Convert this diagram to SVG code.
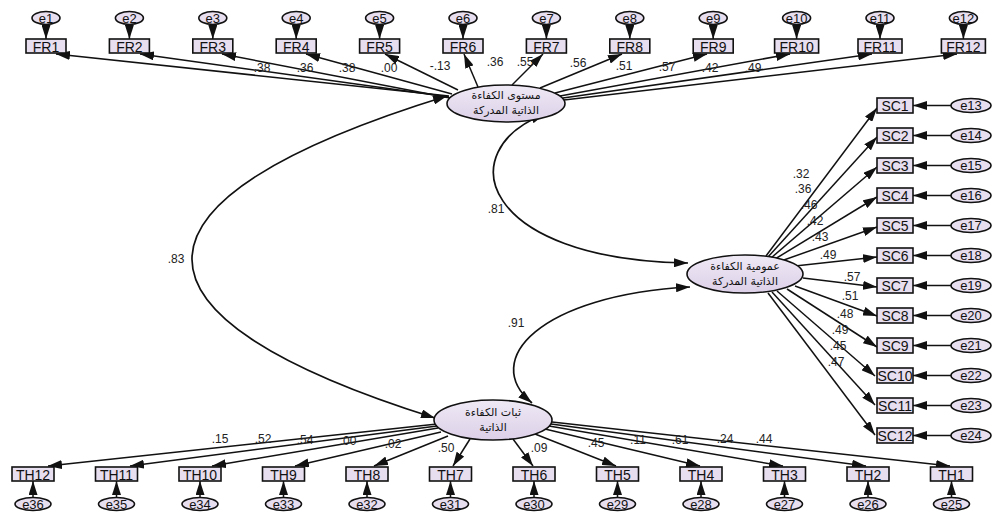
<svg xmlns="http://www.w3.org/2000/svg" width="993" height="512" viewBox="0 0 993 512">
<style>
.box{fill:#e7deef;stroke:#111;stroke-width:1.6}
.err{fill:#e7deef;stroke:#111;stroke-width:1.6}
.lat{fill:url(#lg);stroke:#111;stroke-width:1.6}
.t{font-family:"Liberation Sans",Arial,sans-serif;font-size:14px;fill:#111;text-anchor:middle}
.te{font-family:"Liberation Sans",Arial,sans-serif;font-size:13px;fill:#111;text-anchor:middle}
.ar{font-family:"DejaVu Sans","Noto Sans",sans-serif;font-size:11px;fill:#111;text-anchor:middle}
.lb{font-family:"Liberation Sans",Arial,sans-serif;font-size:12px;fill:#222;text-anchor:middle}
.c{stroke:#111;stroke-width:1.5;fill:none;marker-end:url(#ah)}
.cv{stroke:#111;stroke-width:1.7;fill:none;marker-end:url(#ah);marker-start:url(#ah)}
</style>
<defs>
<linearGradient id="lg" x1="0" y1="0" x2="0" y2="1">
<stop offset="0" stop-color="#efe9f5"/>
<stop offset="1" stop-color="#dcd0e8"/>
</linearGradient>
<marker id="ah" viewBox="0 0 14 9" refX="14" refY="4.5" markerWidth="14" markerHeight="9" orient="auto-start-reverse" markerUnits="userSpaceOnUse">
<path d="M0,0 L14,4.5 L0,9 z" fill="#111"/>
</marker>
</defs>

<g id="connectors">
<line class="c" x1="46" y1="24.5" x2="46" y2="39"/>
<line class="c" x1="129.4" y1="24.5" x2="129.4" y2="39"/>
<line class="c" x1="212.8" y1="24.5" x2="212.8" y2="39"/>
<line class="c" x1="296.2" y1="24.5" x2="296.2" y2="39"/>
<line class="c" x1="379.6" y1="24.5" x2="379.6" y2="39"/>
<line class="c" x1="463" y1="24.5" x2="463" y2="39"/>
<line class="c" x1="546.4" y1="24.5" x2="546.4" y2="39"/>
<line class="c" x1="629.8" y1="24.5" x2="629.8" y2="39"/>
<line class="c" x1="713.2" y1="24.5" x2="713.2" y2="39"/>
<line class="c" x1="796.6" y1="24.5" x2="796.6" y2="39"/>
<line class="c" x1="880" y1="24.5" x2="880" y2="39"/>
<line class="c" x1="963.4" y1="24.5" x2="963.4" y2="39"/>
<line class="c" x1="449" y1="96" x2="56" y2="54"/>
<line class="c" x1="449" y1="97" x2="140" y2="54"/>
<line class="c" x1="450" y1="98" x2="222" y2="54"/>
<line class="c" x1="452" y1="94" x2="306" y2="54"/>
<line class="c" x1="458" y1="90" x2="385" y2="54"/>
<line class="c" x1="478" y1="87" x2="464" y2="54"/>
<line class="c" x1="512" y1="85" x2="543" y2="54"/>
<line class="c" x1="540" y1="88" x2="622" y2="54"/>
<line class="c" x1="555" y1="93" x2="707" y2="54"/>
<line class="c" x1="560" y1="96" x2="790" y2="54"/>
<line class="c" x1="563" y1="98" x2="872" y2="54"/>
<line class="c" x1="564" y1="100" x2="957" y2="54"/>
<line class="c" x1="766" y1="256" x2="877" y2="108"/>
<line class="c" x1="768" y1="257" x2="877" y2="137"/>
<line class="c" x1="771" y1="258" x2="877" y2="167"/>
<line class="c" x1="775" y1="259" x2="877" y2="197"/>
<line class="c" x1="781" y1="261" x2="877" y2="227"/>
<line class="c" x1="795" y1="266" x2="877" y2="257"/>
<line class="c" x1="803" y1="278" x2="877" y2="287"/>
<line class="c" x1="795" y1="286" x2="877" y2="316"/>
<line class="c" x1="787" y1="289" x2="877" y2="347"/>
<line class="c" x1="777" y1="291" x2="875" y2="376"/>
<line class="c" x1="772" y1="292" x2="875" y2="405"/>
<line class="c" x1="768" y1="293" x2="875" y2="435"/>
<line class="c" x1="951" y1="105.5" x2="913" y2="105.5"/>
<line class="c" x1="951" y1="135.5" x2="913" y2="135.5"/>
<line class="c" x1="951" y1="165.5" x2="913" y2="165.5"/>
<line class="c" x1="951" y1="195.5" x2="913" y2="195.5"/>
<line class="c" x1="951" y1="225.5" x2="913" y2="225.5"/>
<line class="c" x1="951" y1="255.5" x2="913" y2="255.5"/>
<line class="c" x1="951" y1="285.5" x2="913" y2="285.5"/>
<line class="c" x1="951" y1="315.5" x2="913" y2="315.5"/>
<line class="c" x1="951" y1="345.5" x2="913" y2="345.5"/>
<line class="c" x1="951" y1="375.5" x2="913" y2="375.5"/>
<line class="c" x1="951" y1="405.5" x2="913" y2="405.5"/>
<line class="c" x1="951" y1="435.5" x2="913" y2="435.5"/>
<line class="c" x1="437" y1="424" x2="48" y2="466"/>
<line class="c" x1="437" y1="426" x2="130" y2="466"/>
<line class="c" x1="438" y1="428" x2="212" y2="466"/>
<line class="c" x1="441" y1="432" x2="295" y2="466"/>
<line class="c" x1="448" y1="436" x2="374" y2="466"/>
<line class="c" x1="470" y1="439" x2="453" y2="466"/>
<line class="c" x1="513" y1="439" x2="533" y2="466"/>
<line class="c" x1="535" y1="434" x2="616" y2="466"/>
<line class="c" x1="545" y1="429" x2="700" y2="466"/>
<line class="c" x1="549" y1="426" x2="783" y2="466"/>
<line class="c" x1="551" y1="424" x2="866" y2="466"/>
<line class="c" x1="552" y1="422" x2="950" y2="466"/>
<line class="c" x1="33" y1="497.5" x2="33" y2="481"/>
<line class="c" x1="116.5" y1="497.5" x2="116.5" y2="481"/>
<line class="c" x1="200" y1="497.5" x2="200" y2="481"/>
<line class="c" x1="283.5" y1="497.5" x2="283.5" y2="481"/>
<line class="c" x1="367" y1="497.5" x2="367" y2="481"/>
<line class="c" x1="450.5" y1="497.5" x2="450.5" y2="481"/>
<line class="c" x1="534" y1="497.5" x2="534" y2="481"/>
<line class="c" x1="617.5" y1="497.5" x2="617.5" y2="481"/>
<line class="c" x1="701" y1="497.5" x2="701" y2="481"/>
<line class="c" x1="784.5" y1="497.5" x2="784.5" y2="481"/>
<line class="c" x1="868" y1="497.5" x2="868" y2="481"/>
<line class="c" x1="951.5" y1="497.5" x2="951.5" y2="481"/>
<path class="cv" d="M447,96 C109,200 109,316 435,418"/>
<path class="cv" d="M545,114 C450,150 480,260 688,263"/>
<path class="cv" d="M690,287 C540,295 480,360 532,403"/>
<text class="lb" x="262" y="72">.38</text>
<text class="lb" x="305" y="72">.36</text>
<text class="lb" x="347" y="72">.38</text>
<text class="lb" x="389" y="72">.00</text>
<text class="lb" x="440" y="70">-.13</text>
<text class="lb" x="495" y="66">.36</text>
<text class="lb" x="525" y="66">.55</text>
<text class="lb" x="578" y="67">.56</text>
<text class="lb" x="624" y="70">.51</text>
<text class="lb" x="667" y="71">.57</text>
<text class="lb" x="710" y="72">.42</text>
<text class="lb" x="753" y="72">.49</text>
<text class="lb" x="801" y="178">.32</text>
<text class="lb" x="803" y="193">.36</text>
<text class="lb" x="809" y="209">.46</text>
<text class="lb" x="815" y="225">.42</text>
<text class="lb" x="820" y="241">.43</text>
<text class="lb" x="828" y="259">.49</text>
<text class="lb" x="852" y="281">.57</text>
<text class="lb" x="850" y="300">.51</text>
<text class="lb" x="845" y="318">.48</text>
<text class="lb" x="840" y="334">.49</text>
<text class="lb" x="838" y="350">.45</text>
<text class="lb" x="836" y="366">.47</text>
<text class="lb" x="220" y="443">.15</text>
<text class="lb" x="263" y="443">.52</text>
<text class="lb" x="305" y="444">.54</text>
<text class="lb" x="348" y="445">.00</text>
<text class="lb" x="393" y="448">.02</text>
<text class="lb" x="446" y="452">.50</text>
<text class="lb" x="539" y="452">.09</text>
<text class="lb" x="596" y="447">.45</text>
<text class="lb" x="638" y="444">.11</text>
<text class="lb" x="680" y="444">.61</text>
<text class="lb" x="725" y="443">.24</text>
<text class="lb" x="764" y="443">.44</text>
<text class="lb" x="176" y="263">.83</text>
<text class="lb" x="496" y="213">.81</text>
<text class="lb" x="516" y="327">.91</text>
</g>

<g id="F1"><ellipse class="lat" cx="506" cy="103.5" rx="59" ry="18.5"/><text class="ar" x="506" y="99">مستوى الكفاءة</text><text class="ar" x="506" y="114">الذاتية المدركة</text></g>
<g id="F2"><ellipse class="lat" cx="745" cy="274" rx="58" ry="19"/><text class="ar" x="745" y="270">عمومية الكفاءة</text><text class="ar" x="745" y="285">الذاتية المدركة</text></g>
<g id="F3"><ellipse class="lat" cx="493" cy="420" rx="59" ry="20"/><text class="ar" x="493" y="416">ثبات الكفاءة</text><text class="ar" x="493" y="431">الذاتية</text></g>

<g id="e1"><ellipse class="err" cx="46" cy="18" rx="14" ry="6.5"/><text class="te" x="46" y="22.5">e1</text></g>
<g id="e2"><ellipse class="err" cx="129.4" cy="18" rx="14" ry="6.5"/><text class="te" x="129.4" y="22.5">e2</text></g>
<g id="e3"><ellipse class="err" cx="212.8" cy="18" rx="14" ry="6.5"/><text class="te" x="212.8" y="22.5">e3</text></g>
<g id="e4"><ellipse class="err" cx="296.2" cy="18" rx="14" ry="6.5"/><text class="te" x="296.2" y="22.5">e4</text></g>
<g id="e5"><ellipse class="err" cx="379.6" cy="18" rx="14" ry="6.5"/><text class="te" x="379.6" y="22.5">e5</text></g>
<g id="e6"><ellipse class="err" cx="463" cy="18" rx="14" ry="6.5"/><text class="te" x="463" y="22.5">e6</text></g>
<g id="e7"><ellipse class="err" cx="546.4" cy="18" rx="14" ry="6.5"/><text class="te" x="546.4" y="22.5">e7</text></g>
<g id="e8"><ellipse class="err" cx="629.8" cy="18" rx="14" ry="6.5"/><text class="te" x="629.8" y="22.5">e8</text></g>
<g id="e9"><ellipse class="err" cx="713.2" cy="18" rx="14" ry="6.5"/><text class="te" x="713.2" y="22.5">e9</text></g>
<g id="e10"><ellipse class="err" cx="796.6" cy="18" rx="14" ry="6.5"/><text class="te" x="796.6" y="22.5">e10</text></g>
<g id="e11"><ellipse class="err" cx="880" cy="18" rx="14" ry="6.5"/><text class="te" x="880" y="22.5">e11</text></g>
<g id="e12"><ellipse class="err" cx="963.4" cy="18" rx="14" ry="6.5"/><text class="te" x="963.4" y="22.5">e12</text></g>

<g id="FR1"><rect class="box" x="26" y="39" width="40" height="14"/><text class="t" x="46" y="51.5">FR1</text></g>
<g id="FR2"><rect class="box" x="109.4" y="39" width="40" height="14"/><text class="t" x="129.4" y="51.5">FR2</text></g>
<g id="FR3"><rect class="box" x="192.8" y="39" width="40" height="14"/><text class="t" x="212.8" y="51.5">FR3</text></g>
<g id="FR4"><rect class="box" x="276.2" y="39" width="40" height="14"/><text class="t" x="296.2" y="51.5">FR4</text></g>
<g id="FR5"><rect class="box" x="359.6" y="39" width="40" height="14"/><text class="t" x="379.6" y="51.5">FR5</text></g>
<g id="FR6"><rect class="box" x="443" y="39" width="40" height="14"/><text class="t" x="463" y="51.5">FR6</text></g>
<g id="FR7"><rect class="box" x="526.4" y="39" width="40" height="14"/><text class="t" x="546.4" y="51.5">FR7</text></g>
<g id="FR8"><rect class="box" x="609.8" y="39" width="40" height="14"/><text class="t" x="629.8" y="51.5">FR8</text></g>
<g id="FR9"><rect class="box" x="693.2" y="39" width="40" height="14"/><text class="t" x="713.2" y="51.5">FR9</text></g>
<g id="FR10"><rect class="box" x="774.6" y="39" width="44" height="14"/><text class="t" x="796.6" y="51.5">FR10</text></g>
<g id="FR11"><rect class="box" x="858" y="39" width="44" height="14"/><text class="t" x="880" y="51.5">FR11</text></g>
<g id="FR12"><rect class="box" x="941.4" y="39" width="44" height="14"/><text class="t" x="963.4" y="51.5">FR12</text></g>

<g id="SC1"><rect class="box" x="877" y="98" width="36" height="15"/><text class="t" x="895" y="110.5">SC1</text></g>
<g id="SC2"><rect class="box" x="877" y="128" width="36" height="15"/><text class="t" x="895" y="140.5">SC2</text></g>
<g id="SC3"><rect class="box" x="877" y="158" width="36" height="15"/><text class="t" x="895" y="170.5">SC3</text></g>
<g id="SC4"><rect class="box" x="877" y="188" width="36" height="15"/><text class="t" x="895" y="200.5">SC4</text></g>
<g id="SC5"><rect class="box" x="877" y="218" width="36" height="15"/><text class="t" x="895" y="230.5">SC5</text></g>
<g id="SC6"><rect class="box" x="877" y="248" width="36" height="15"/><text class="t" x="895" y="260.5">SC6</text></g>
<g id="SC7"><rect class="box" x="877" y="278" width="36" height="15"/><text class="t" x="895" y="290.5">SC7</text></g>
<g id="SC8"><rect class="box" x="877" y="308" width="36" height="15"/><text class="t" x="895" y="320.5">SC8</text></g>
<g id="SC9"><rect class="box" x="877" y="338" width="36" height="15"/><text class="t" x="895" y="350.5">SC9</text></g>
<g id="SC10"><rect class="box" x="877" y="368" width="36" height="15"/><text class="t" x="895" y="380.5">SC10</text></g>
<g id="SC11"><rect class="box" x="877" y="398" width="36" height="15"/><text class="t" x="895" y="410.5">SC11</text></g>
<g id="SC12"><rect class="box" x="877" y="428" width="36" height="15"/><text class="t" x="895" y="440.5">SC12</text></g>

<g id="e13"><ellipse class="err" cx="971" cy="105.5" rx="20" ry="7"/><text class="te" x="971" y="110">e13</text></g>
<g id="e14"><ellipse class="err" cx="971" cy="135.5" rx="20" ry="7"/><text class="te" x="971" y="140">e14</text></g>
<g id="e15"><ellipse class="err" cx="971" cy="165.5" rx="20" ry="7"/><text class="te" x="971" y="170">e15</text></g>
<g id="e16"><ellipse class="err" cx="971" cy="195.5" rx="20" ry="7"/><text class="te" x="971" y="200">e16</text></g>
<g id="e17"><ellipse class="err" cx="971" cy="225.5" rx="20" ry="7"/><text class="te" x="971" y="230">e17</text></g>
<g id="e18"><ellipse class="err" cx="971" cy="255.5" rx="20" ry="7"/><text class="te" x="971" y="260">e18</text></g>
<g id="e19"><ellipse class="err" cx="971" cy="285.5" rx="20" ry="7"/><text class="te" x="971" y="290">e19</text></g>
<g id="e20"><ellipse class="err" cx="971" cy="315.5" rx="20" ry="7"/><text class="te" x="971" y="320">e20</text></g>
<g id="e21"><ellipse class="err" cx="971" cy="345.5" rx="20" ry="7"/><text class="te" x="971" y="350">e21</text></g>
<g id="e22"><ellipse class="err" cx="971" cy="375.5" rx="20" ry="7"/><text class="te" x="971" y="380">e22</text></g>
<g id="e23"><ellipse class="err" cx="971" cy="405.5" rx="20" ry="7"/><text class="te" x="971" y="410">e23</text></g>
<g id="e24"><ellipse class="err" cx="971" cy="435.5" rx="20" ry="7"/><text class="te" x="971" y="440">e24</text></g>

<g id="TH12"><rect class="box" x="12" y="467" width="42" height="14"/><text class="t" x="33" y="479.5">TH12</text></g>
<g id="TH11"><rect class="box" x="95.5" y="467" width="42" height="14"/><text class="t" x="116.5" y="479.5">TH11</text></g>
<g id="TH10"><rect class="box" x="179" y="467" width="42" height="14"/><text class="t" x="200" y="479.5">TH10</text></g>
<g id="TH9"><rect class="box" x="262.5" y="467" width="42" height="14"/><text class="t" x="283.5" y="479.5">TH9</text></g>
<g id="TH8"><rect class="box" x="346" y="467" width="42" height="14"/><text class="t" x="367" y="479.5">TH8</text></g>
<g id="TH7"><rect class="box" x="429.5" y="467" width="42" height="14"/><text class="t" x="450.5" y="479.5">TH7</text></g>
<g id="TH6"><rect class="box" x="513" y="467" width="42" height="14"/><text class="t" x="534" y="479.5">TH6</text></g>
<g id="TH5"><rect class="box" x="596.5" y="467" width="42" height="14"/><text class="t" x="617.5" y="479.5">TH5</text></g>
<g id="TH4"><rect class="box" x="680" y="467" width="42" height="14"/><text class="t" x="701" y="479.5">TH4</text></g>
<g id="TH3"><rect class="box" x="763.5" y="467" width="42" height="14"/><text class="t" x="784.5" y="479.5">TH3</text></g>
<g id="TH2"><rect class="box" x="847" y="467" width="42" height="14"/><text class="t" x="868" y="479.5">TH2</text></g>
<g id="TH1"><rect class="box" x="930.5" y="467" width="42" height="14"/><text class="t" x="951.5" y="479.5">TH1</text></g>

<g id="e36"><ellipse class="err" cx="33" cy="504" rx="18" ry="6.5"/><text class="te" x="33" y="508.5">e36</text></g>
<g id="e35"><ellipse class="err" cx="116.5" cy="504" rx="18" ry="6.5"/><text class="te" x="116.5" y="508.5">e35</text></g>
<g id="e34"><ellipse class="err" cx="200" cy="504" rx="18" ry="6.5"/><text class="te" x="200" y="508.5">e34</text></g>
<g id="e33"><ellipse class="err" cx="283.5" cy="504" rx="18" ry="6.5"/><text class="te" x="283.5" y="508.5">e33</text></g>
<g id="e32"><ellipse class="err" cx="367" cy="504" rx="18" ry="6.5"/><text class="te" x="367" y="508.5">e32</text></g>
<g id="e31"><ellipse class="err" cx="450.5" cy="504" rx="18" ry="6.5"/><text class="te" x="450.5" y="508.5">e31</text></g>
<g id="e30"><ellipse class="err" cx="534" cy="504" rx="18" ry="6.5"/><text class="te" x="534" y="508.5">e30</text></g>
<g id="e29"><ellipse class="err" cx="617.5" cy="504" rx="18" ry="6.5"/><text class="te" x="617.5" y="508.5">e29</text></g>
<g id="e28"><ellipse class="err" cx="701" cy="504" rx="18" ry="6.5"/><text class="te" x="701" y="508.5">e28</text></g>
<g id="e27"><ellipse class="err" cx="784.5" cy="504" rx="18" ry="6.5"/><text class="te" x="784.5" y="508.5">e27</text></g>
<g id="e26"><ellipse class="err" cx="868" cy="504" rx="18" ry="6.5"/><text class="te" x="868" y="508.5">e26</text></g>
<g id="e25"><ellipse class="err" cx="951.5" cy="504" rx="18" ry="6.5"/><text class="te" x="951.5" y="508.5">e25</text></g>
</svg>
